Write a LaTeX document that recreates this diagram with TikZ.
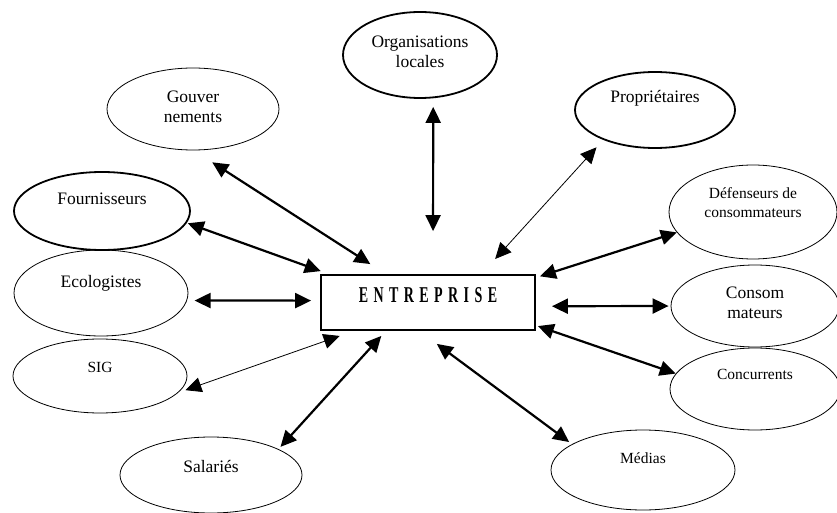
\documentclass[tikz,border=0pt]{standalone}
\usepackage{fontspec}
\setmainfont{Liberation Serif}
\newfontfamily\entfont[LetterSpace=24,FakeStretch=0.62]{Liberation Serif}
\usetikzlibrary{arrows.meta,shapes.geometric}
\tikzset{
  party/.style={ellipse, draw, inner sep=0pt, line width=0.8pt},
  keyparty/.style={party, line width=1.8pt},
  lab/.style={align=center, font=\fontsize{17.5}{20}\selectfont},
  labsm/.style={align=center, font=\fontsize{15.5}{19}\selectfont},
  firm/.style={draw, line width=1.8pt, minimum width=214pt, minimum height=55pt, text depth=14pt, font=\entfont\bfseries\fontsize{22.6}{24}\selectfont},
  arr/.style={{Triangle[length=16pt,width=15pt]}-{Triangle[length=16pt,width=15pt]}, line width=2.2pt},
  arrthin/.style={arr, line width=0.8pt},
}

\begin{document}
\begin{tikzpicture}[x=1pt,y=1pt]
    \useasboundingbox (0,0) rectangle (837,512);
    \node[firm] (ent) at (428,209.5) {ENTREPRISE};
    \node[keyparty, minimum width=154pt, minimum height=86pt, label={[lab, yshift=3pt]center:Organisations\\locales}] (org) at (420,457) {};
    \node[party, minimum width=172pt, minimum height=82pt, label={[lab, yshift=2pt]center:Gouver\\nements}] (gouv) at (193,403) {};
    \node[keyparty, minimum width=160pt, minimum height=76pt, label={[lab, yshift=12pt]center:Propriétaires}] (prop) at (655,402) {};
    \node[keyparty, minimum width=176pt, minimum height=78pt, label={[lab, yshift=12pt]center:Fournisseurs}] (four) at (102,301) {};
    \node[party, minimum width=174pt, minimum height=86pt, label={[lab, yshift=10pt]center:Ecologistes}] (eco) at (101,219) {};
    \node[party, minimum width=174pt, minimum height=74pt, label={[labsm, yshift=9pt]center:SIG}] (sig) at (100,136) {};
    \node[party, minimum width=182pt, minimum height=76pt, label={[lab, yshift=9pt]center:Salariés}] (sal) at (211,37) {};
    \node[party, minimum width=184pt, minimum height=80pt, label={[labsm, yshift=12pt]center:Médias}] (med) at (643,42) {};
    \node[party, minimum width=168pt, minimum height=94pt, label={[labsm, yshift=9pt]center:Défenseurs de\\consommateurs}] (def) at (753,300) {};
    \node[party, minimum width=168pt, minimum height=82pt, label={[lab, yshift=3pt]center:Consom\\mateurs}] (cons) at (755,206) {};
    \node[party, minimum width=170pt, minimum height=82pt, label={[labsm, yshift=15pt]center:Concurrents}] (conc) at (755,123) {};
    \draw[arr, shorten <=22pt, shorten >=18.5pt] (gouv.-89) -- (ent.146);
    \draw[arr, shorten <=8.6pt, shorten >=43pt] (org.-73) -- (ent.80);
    \draw[arrthin, shorten <=10pt, shorten >=20.4pt] (prop.210.5) -- (ent.28);
    \draw[arr, shorten <=1pt, shorten >=8.8pt] (four.-8) -- (ent.164);
    \draw[arr, shorten <=7.5pt, shorten >=9pt] (eco.-5) -- (ent.179);
    \draw[arrthin, shorten <=7.5pt, shorten >=15.2pt] (sig.-12) -- (ent.201);
    \draw[arr, shorten <=3pt, shorten >=6.8pt] (sal.21) -- (ent.214);
    \draw[arr, shorten <=3.5pt, shorten >=21.8pt] (med.160) -- (ent.253);
    \draw[arr, shorten >=4.2pt] (def.195) -- (ent.13);
    \draw[arr, shorten <=2pt, shorten >=16pt] (cons.180) -- (ent.-2);
    \draw[arr, shorten >=2pt] (conc.169) -- (ent.-12.5);
  \end{tikzpicture}
\end{document}
